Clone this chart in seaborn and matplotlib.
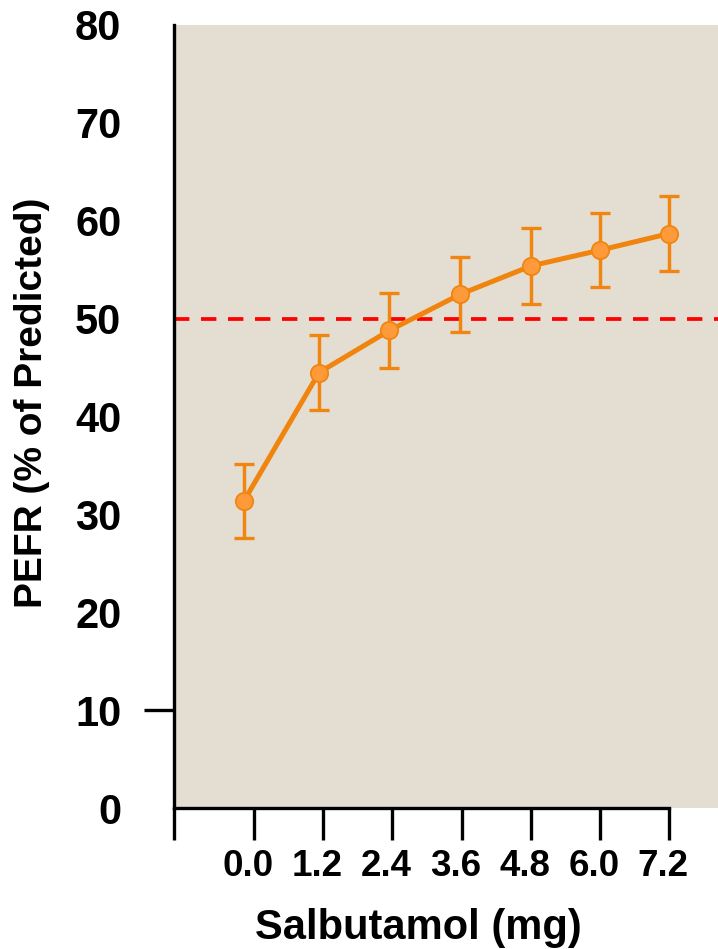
import matplotlib
matplotlib.use("Agg")
import matplotlib.pyplot as plt
import matplotlib.transforms as mtrans
import seaborn as sns
import pandas as pd

# ---- data ----
dose_ticks = [0.0, 1.2, 2.4, 3.6, 4.8, 6.0, 7.2]
dose_labels = ["0.0", "1.2", "2.4", "3.6", "4.8", "6.0", "7.2"]
dose_x = [-0.17, 1.13, 2.35, 3.58, 4.81, 6.0, 7.2]
pefr = [31.4, 44.5, 48.8, 52.5, 55.4, 57.0, 58.7]
pefr_err = [3.8, 3.85, 3.8, 3.85, 3.85, 3.8, 3.85]
threshold = 50
y_ticks = [0, 10, 20, 30, 40, 50, 60, 70, 80]
y_labels = ["0", "10", "20", "30", "40", "50", "60", "70", "80"]

sns.set_theme(style="white")
plt.rcParams["font.family"] = ["Liberation Sans", "DejaVu Sans"]
plt.rcParams["font.weight"] = "bold"
plt.rcParams["text.color"] = "black"
plt.rcParams["axes.labelcolor"] = "black"
plt.rcParams["xtick.color"] = "black"
plt.rcParams["ytick.color"] = "black"

fig = plt.figure(figsize=(7.18, 9.49), dpi=100)
ax = fig.add_axes([0.2418, 0.1483, 0.7595, 0.8254])
ax.set_facecolor("#E3DDD2")

x_left = -1.39
ax.set_xlim(x_left, 8.06)
ax.set_ylim(0, 80)

ax.axhline(threshold, color="#FF0000", lw=2.7, linestyle=(0, (4.1, 3.1)), zorder=1)

ax.errorbar(dose_x, pefr, yerr=pefr_err, fmt="none", ecolor="#F0850F",
            elinewidth=2.5, capsize=7.2, capthick=2.4, zorder=2)

df = pd.DataFrame({"dose": dose_x, "pefr": pefr})
sns.lineplot(data=df, x="dose", y="pefr", ax=ax, color="#F0840C", lw=3.6,
             marker="o", markersize=12.5, markerfacecolor="#FF9A3A",
             markeredgecolor="#F0850F", markeredgewidth=1.3, zorder=3)

# spines
for s in ["top", "right"]:
    ax.spines[s].set_visible(False)
for s in ["left", "bottom"]:
    ax.spines[s].set_color("black")
    ax.spines[s].set_linewidth(2.4)
ax.spines["bottom"].set_bounds(x_left, 7.2)

# x ticks
ax.set_xticks([x_left + 0.001] + dose_ticks)
ax.set_xticklabels([""] + dose_labels)
ax.tick_params(axis="x", direction="out", length=23, width=2.4, colors="black",
               pad=6, labelsize=26.5, bottom=True)
offset = mtrans.ScaledTranslation(-6 / 100, 0, fig.dpi_scale_trans)
for lab in ax.get_xticklabels():
    lab.set_transform(lab.get_transform() + offset)
    lab.set_fontweight("bold")
    lab.set_color("black")

# y ticks (only the 10 tick mark is drawn)
ax.set_yticks(y_ticks)
ax.set_yticklabels(y_labels)
ax.tick_params(axis="y", direction="out", length=21.6, width=2.4, colors="black",
               pad=16, labelsize=30, left=True)
for val, t in zip(y_ticks, ax.yaxis.get_major_ticks()):
    if val != 10:
        t.tick1line.set_visible(False)
for lab in ax.get_yticklabels():
    lab.set_fontweight("bold")
    lab.set_color("black")

ax.set_xlabel("Salbutamol (mg)", fontsize=30, fontweight="bold", color="black")
ax.xaxis.set_label_coords(0.449, -0.127)
ax.set_ylabel("PEFR (% of Predicted)", fontsize=28, fontweight="bold", color="black")
ax.yaxis.set_label_coords(-0.227, 0.517)

ax.grid(False)
fig.savefig("out.png", dpi=100)
